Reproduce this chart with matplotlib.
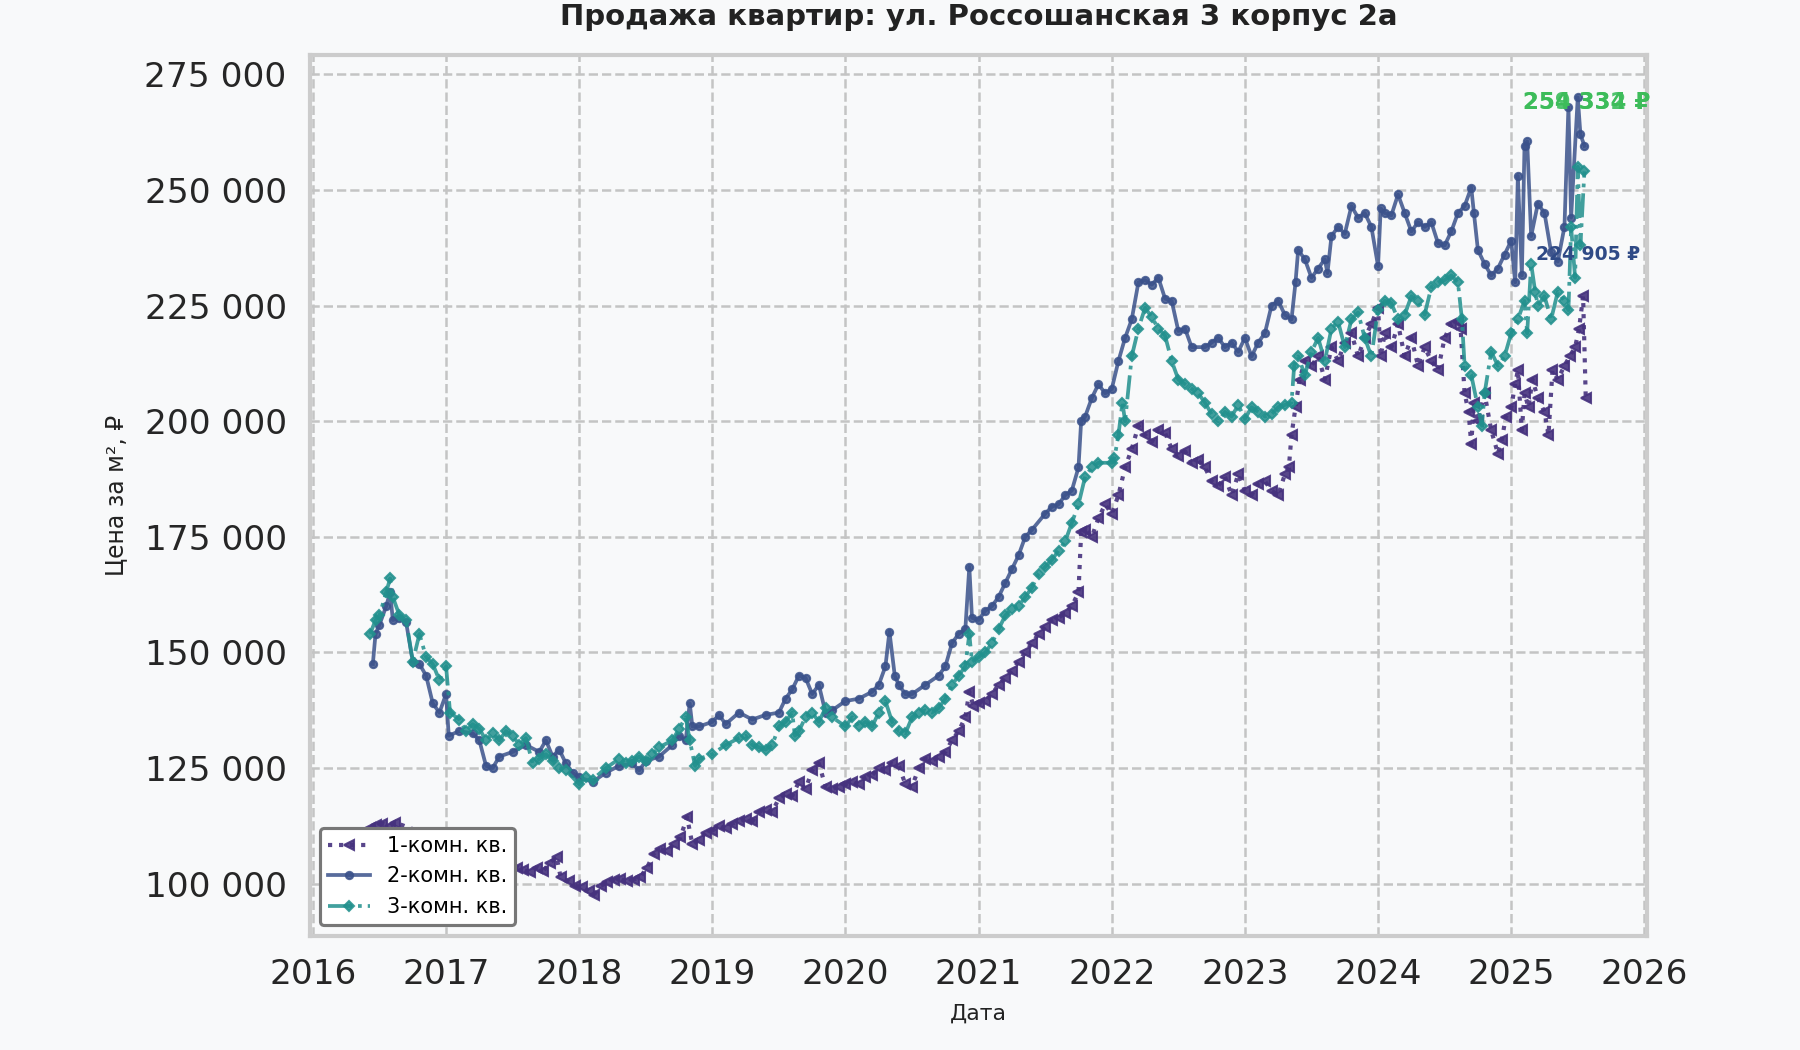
import matplotlib
matplotlib.use("Agg")
import matplotlib.pyplot as plt
from matplotlib.ticker import FuncFormatter

# --- data (decimal years, price per m2) ---
t1 = [2016.43, 2016.47, 2016.52, 2016.58, 2016.62,
      2017.53, 2017.58, 2017.63, 2017.68, 2017.73, 2017.78, 2017.83, 2017.86, 2017.92, 2017.97,
      2018.02, 2018.07, 2018.11, 2018.16, 2018.21, 2018.26, 2018.31, 2018.36, 2018.41, 2018.46,
      2018.51, 2018.56, 2018.61, 2018.66, 2018.71, 2018.76, 2018.81, 2018.85, 2018.9, 2018.95,
      2019.0, 2019.05, 2019.1, 2019.15, 2019.2, 2019.25, 2019.3, 2019.35, 2019.4, 2019.45,
      2019.5, 2019.55, 2019.6, 2019.65, 2019.7, 2019.75, 2019.8, 2019.85, 2019.9, 2019.95,
      2020.0, 2020.05, 2020.1, 2020.15, 2020.2, 2020.25, 2020.3, 2020.35, 2020.4, 2020.45,
      2020.5, 2020.55, 2020.6, 2020.65, 2020.7, 2020.75, 2020.8, 2020.85, 2020.9, 2020.93,
      2020.96, 2021.0, 2021.05, 2021.1, 2021.15, 2021.2, 2021.25, 2021.3, 2021.35, 2021.4,
      2021.45, 2021.5, 2021.55, 2021.6, 2021.65, 2021.7, 2021.75, 2021.77, 2021.8, 2021.85,
      2021.9, 2021.95, 2022.0, 2022.05, 2022.1, 2022.15, 2022.2, 2022.25, 2022.3, 2022.35,
      2022.4, 2022.45, 2022.5, 2022.55, 2022.6, 2022.65, 2022.7, 2022.75, 2022.8, 2022.85,
      2022.9, 2022.95, 2023.0, 2023.05, 2023.1, 2023.15, 2023.2, 2023.25, 2023.3, 2023.33,
      2023.35, 2023.38, 2023.41, 2023.45, 2023.5, 2023.55, 2023.6, 2023.65, 2023.7, 2023.75,
      2023.8, 2023.85, 2023.9, 2023.95, 2024.0, 2024.02, 2024.05, 2024.1, 2024.15, 2024.2,
      2024.25, 2024.3, 2024.35, 2024.4, 2024.45, 2024.5, 2024.55, 2024.6, 2024.62, 2024.65,
      2024.68, 2024.7, 2024.72, 2024.75, 2024.8, 2024.85, 2024.9, 2024.93, 2024.96, 2025.0,
      2025.03, 2025.05, 2025.08, 2025.1, 2025.13, 2025.16, 2025.2, 2025.25, 2025.28, 2025.31,
      2025.35, 2025.4, 2025.44, 2025.48, 2025.51, 2025.54, 2025.56]
p1 = [112000, 112800, 113000, 112500, 113200,
      103500, 103000, 102500, 103500, 102800, 104500, 105800, 101500, 100500, 99500,
      99300, 98500, 97600, 99500, 100300, 100800, 101000, 100500, 100900, 101500,
      103500, 106500, 107500, 107000, 108500, 110000, 114400, 108500, 109500, 111000,
      111500, 112500, 112000, 113000, 113500, 114000, 113500, 115500, 116000, 115500,
      118500, 119500, 119000, 122000, 120500, 124500, 126000, 121000, 120500, 121000,
      121500, 122000, 121500, 123000, 123500, 125000, 124500, 126000, 125500, 121500,
      121000, 125000, 127000, 126500, 127500, 128500, 131000, 133000, 136000, 141500,
      138500, 139000, 139500, 141000, 143000, 144500, 146000, 148000, 150000, 152000,
      154000, 155500, 157000, 157500, 158500, 160000, 163000, 176000, 176500, 175000,
      179000, 182000, 180000, 184000, 190000, 194000, 199000, 197000, 195500, 198000,
      197500, 194000, 192500, 193500, 191000, 191500, 190000, 187000, 186000, 188000,
      184000, 188500, 185000, 184000, 186500, 187000, 185000, 184000, 188500, 190000,
      197000, 203000, 209000, 213000, 212000, 214000, 209000, 216000, 213000, 217000,
      219000, 214000, 218000, 221000, 224500, 214000, 219000, 216000, 221000, 214000,
      218000, 212000, 216000, 213000, 211000, 218000, 221000, 221500, 220000, 206000,
      202000, 195000, 204000, 200000, 206000, 198000, 193000, 196000, 201000, 203000,
      208000, 211000, 198000, 206000, 203000, 209000, 205000, 202000, 197000, 211000,
      209000, 212000, 214000, 216000, 220000, 227000, 205000]

t2 = [2016.45, 2016.47, 2016.5, 2016.55, 2016.58, 2016.6, 2016.65, 2016.7, 2016.75, 2016.8,
      2016.85, 2016.9, 2016.95, 2017.0, 2017.02, 2017.1, 2017.2, 2017.25, 2017.3, 2017.35,
      2017.4, 2017.5, 2017.6, 2017.7, 2017.75, 2017.8, 2017.85, 2017.9, 2017.95, 2018.0,
      2018.1, 2018.2, 2018.3, 2018.4, 2018.45, 2018.5, 2018.6, 2018.7, 2018.75, 2018.8,
      2018.83, 2018.85, 2018.9, 2019.0, 2019.05, 2019.1, 2019.2, 2019.3, 2019.4, 2019.5,
      2019.55, 2019.6, 2019.65, 2019.7, 2019.75, 2019.8, 2019.85, 2019.9, 2020.0, 2020.1,
      2020.2, 2020.25, 2020.3, 2020.33, 2020.37, 2020.4, 2020.45, 2020.5, 2020.6, 2020.7,
      2020.75, 2020.8, 2020.85, 2020.9, 2020.93, 2020.95, 2021.0, 2021.05, 2021.1, 2021.15,
      2021.2, 2021.25, 2021.3, 2021.35, 2021.4, 2021.5, 2021.55, 2021.6, 2021.65, 2021.7,
      2021.75, 2021.77, 2021.8, 2021.85, 2021.9, 2021.95, 2022.0, 2022.05, 2022.1, 2022.15,
      2022.2, 2022.25, 2022.3, 2022.35, 2022.4, 2022.45, 2022.5, 2022.55, 2022.6, 2022.7,
      2022.75, 2022.8, 2022.85, 2022.9, 2022.95, 2023.0, 2023.05, 2023.1, 2023.15, 2023.2,
      2023.25, 2023.3, 2023.35, 2023.38, 2023.4, 2023.45, 2023.5, 2023.55, 2023.6, 2023.62,
      2023.65, 2023.7, 2023.75, 2023.8, 2023.85, 2023.9, 2023.95, 2024.0, 2024.02, 2024.05,
      2024.1, 2024.15, 2024.2, 2024.25, 2024.3, 2024.35, 2024.4, 2024.45, 2024.5, 2024.55,
      2024.6, 2024.65, 2024.7, 2024.72, 2024.75, 2024.8, 2024.85, 2024.9, 2024.95, 2025.0,
      2025.03, 2025.05, 2025.08, 2025.1, 2025.12, 2025.15, 2025.2, 2025.25, 2025.3, 2025.35,
      2025.4, 2025.43, 2025.45, 2025.5, 2025.52, 2025.55]
p2 = [147500, 154000, 156000, 160000, 163000, 157000, 157500, 156500, 148000, 147500,
      145000, 139000, 137000, 141000, 132000, 133000, 132500, 131000, 125500, 125000,
      127500, 128500, 130000, 128500, 131000, 127500, 129000, 126000, 124000, 123000,
      122000, 124000, 125500, 126000, 124500, 126500, 127500, 130000, 132000, 131000,
      139000, 134000, 134000, 135000, 136500, 134500, 137000, 135500, 136500, 137000,
      140000, 142000, 145000, 144500, 141000, 143000, 137000, 137500, 139500, 140000,
      141500, 143000, 147000, 154500, 145000, 143000, 141000, 141000, 143000, 145000,
      147000, 152000, 154000, 155000, 168500, 157500, 157000, 159000, 160000, 162000,
      165000, 168000, 171000, 175000, 176500, 180000, 181500, 182000, 184000, 185000,
      190000, 200000, 201000, 205000, 208000, 206000, 207000, 213000, 218000, 222000,
      230000, 230500, 229500, 231000, 226500, 226000, 219500, 220000, 216000, 216000,
      217000, 218000, 216000, 217000, 215000, 218000, 214000, 217000, 219000, 225000,
      226000, 223000, 222000, 230000, 237000, 235000, 231000, 233000, 235000, 232000,
      240000, 242000, 240500, 246500, 244000, 245000, 242000, 233500, 246000, 245000,
      244500, 249000, 245000, 241000, 243000, 242000, 243000, 238500, 238000, 241000,
      245000, 246500, 250500, 245000, 237000, 234000, 231500, 233000, 236000, 239000,
      230000, 253000, 231500, 259500, 260500, 240000, 247000, 245000, 236500, 234500,
      242000, 268000, 244000, 270000, 262000, 259500]

t3 = [2016.43, 2016.47, 2016.5, 2016.55, 2016.58, 2016.6, 2016.65, 2016.7, 2016.75, 2016.8,
      2016.85, 2016.9, 2016.95, 2017.0, 2017.03, 2017.1, 2017.15, 2017.2, 2017.25, 2017.3,
      2017.35, 2017.4, 2017.45, 2017.5, 2017.55, 2017.6, 2017.65, 2017.7, 2017.75, 2017.8,
      2017.85, 2017.9, 2018.0, 2018.05, 2018.1, 2018.2, 2018.3, 2018.35, 2018.4, 2018.45,
      2018.5, 2018.55, 2018.6, 2018.7, 2018.75, 2018.8, 2018.83, 2018.87, 2018.9, 2019.0,
      2019.1, 2019.2, 2019.25, 2019.3, 2019.35, 2019.4, 2019.45, 2019.5, 2019.55, 2019.6,
      2019.62, 2019.65, 2019.7, 2019.75, 2019.8, 2019.85, 2019.9, 2020.0, 2020.05, 2020.1,
      2020.15, 2020.2, 2020.25, 2020.3, 2020.35, 2020.4, 2020.45, 2020.5, 2020.55, 2020.6,
      2020.65, 2020.7, 2020.75, 2020.8, 2020.85, 2020.9, 2020.93, 2020.95, 2021.0, 2021.05,
      2021.1, 2021.15, 2021.2, 2021.25, 2021.3, 2021.35, 2021.4, 2021.45, 2021.5, 2021.55,
      2021.6, 2021.65, 2021.7, 2021.75, 2021.8, 2021.85, 2021.9, 2022.0, 2022.02, 2022.05,
      2022.08, 2022.1, 2022.15, 2022.2, 2022.25, 2022.3, 2022.35, 2022.4, 2022.45, 2022.5,
      2022.55, 2022.6, 2022.65, 2022.7, 2022.75, 2022.8, 2022.85, 2022.9, 2022.95, 2023.0,
      2023.05, 2023.1, 2023.15, 2023.2, 2023.25, 2023.3, 2023.35, 2023.37, 2023.4, 2023.45,
      2023.5, 2023.55, 2023.6, 2023.65, 2023.7, 2023.75, 2023.8, 2023.85, 2023.9, 2023.95,
      2024.0, 2024.05, 2024.1, 2024.15, 2024.2, 2024.25, 2024.3, 2024.35, 2024.4, 2024.45,
      2024.5, 2024.55, 2024.6, 2024.63, 2024.65, 2024.7, 2024.75, 2024.78, 2024.8, 2024.85,
      2024.9, 2024.95, 2025.0, 2025.05, 2025.1, 2025.12, 2025.15, 2025.18, 2025.2, 2025.25,
      2025.3, 2025.35, 2025.4, 2025.43, 2025.45, 2025.48, 2025.5, 2025.52, 2025.55]
p3 = [154000, 157000, 158000, 163000, 166000, 162000, 158000, 157000, 148000, 154000,
      149000, 147500, 144000, 147000, 137000, 135500, 133000, 134500, 133500, 131000,
      132500, 131000, 133000, 132000, 130000, 131500, 126000, 127000, 128000, 126500,
      125000, 124500, 121500, 123000, 122500, 125000, 127000, 126000, 126500, 127500,
      126500, 128000, 129500, 131000, 133500, 136000, 131000, 125500, 127000, 128000,
      130000, 131500, 132000, 130000, 129500, 129000, 130000, 134000, 135000, 137000,
      132000, 133000, 136000, 137000, 135000, 138000, 136000, 134000, 136000, 134000,
      135000, 134000, 137000, 139500, 135000, 133000, 132500, 136000, 137000, 137500,
      137000, 138000, 140000, 143000, 145000, 147000, 154000, 148000, 149000, 150000,
      152000, 155000, 158000, 159500, 160000, 162000, 164000, 167000, 168500, 170000,
      172000, 174000, 178000, 182000, 188000, 190000, 191000, 191000, 192000, 197000,
      204000, 200000, 214000, 220000, 224500, 222500, 220000, 218500, 213000, 209000,
      208000, 207000, 206000, 204000, 201500, 200000, 202000, 201000, 203500, 200500,
      203000, 202000, 201000, 201500, 203000, 203500, 204000, 212000, 214000, 210000,
      215000, 218000, 213000, 220000, 221500, 216000, 222000, 223500, 218000, 214000,
      224000, 226000, 225500, 222000, 223000, 227000, 226000, 223000, 229000, 230000,
      230500, 231500, 230000, 222000, 212000, 210000, 203000, 199000, 206000, 215000,
      212000, 214000, 219000, 222000, 226000, 219000, 234000, 228000, 225000, 227000,
      222000, 228000, 226000, 224000, 242000, 231000, 255000, 238000, 254000]

labels = ["1-комн. кв.", "2-комн. кв.", "3-комн. кв."]
colors = ["#46327e", "#3b528b", "#21908d"]
years = list(range(2016, 2027))
yticks = list(range(100000, 275001, 25000))

bg = "#f8f9fa"
plt.rcParams["font.family"] = ["DejaVu Sans"]

fig = plt.figure(figsize=(12, 7), dpi=150, facecolor=bg)
ax = fig.add_axes([0.172, 0.109, 0.743, 0.839])
ax.set_facecolor(bg)

ax.plot(t1, p1, linestyle=":", marker="<", markersize=4.5, linewidth=2,
        color=colors[0], alpha=0.9, label=labels[0])
ax.plot(t2, p2, linestyle="-", marker="o", markersize=3.5, linewidth=1.8,
        color=colors[1], alpha=0.85, label=labels[1])
ax.plot(t3, p3, linestyle="-.", marker="D", markersize=3.5, linewidth=1.8,
        color=colors[2], alpha=0.85, label=labels[2])

# overlapping end-value labels
ax.text(2025.09, 268900, "259 332 ₽", color="#4ec36b", fontsize=11,
        fontweight="bold", va="center", ha="left")
ax.text(2025.09, 268900, "254 334 ₽", color="#3dbc5a", fontsize=11,
        fontweight="bold", va="center", ha="left")
ax.text(2025.19, 236000, "224 905 ₽", color="#2f4a86", fontsize=9,
        fontweight="bold", va="center", ha="left")

ax.set_xlim(2015.975, 2026.02)
ax.set_ylim(88800, 279240)
ax.set_xticks(years)
ax.set_xticklabels([str(y) for y in years])
ax.set_yticks(yticks)
ax.yaxis.set_major_formatter(FuncFormatter(lambda v, _: f"{v:,.0f}".replace(",", " ")))

ax.grid(True, linestyle="--", color="#c4c4c4", linewidth=1.2)
ax.set_axisbelow(True)
for s in ax.spines.values():
    s.set_color("#cccccc")
    s.set_linewidth(2)
ax.tick_params(axis="both", length=0, labelsize=16.5, colors="#262626", pad=11)

ax.set_title("Продажа квартир: ул. Россошанская 3 корпус 2а", fontsize=14,
             fontweight="bold", color="#222222", pad=14)
ax.set_xlabel("Дата", fontsize=10.5, color="#222222", labelpad=6)
ax.set_ylabel("Цена за м², ₽", fontsize=11.3, color="#222222", labelpad=8)

leg = ax.legend(loc="lower left", fontsize=10, frameon=True, facecolor="white",
                edgecolor="#777777", framealpha=1, borderaxespad=0.5, handlelength=2.0)
leg.get_frame().set_linewidth(1.5)

fig.savefig("out.png", dpi=150, facecolor=bg)
